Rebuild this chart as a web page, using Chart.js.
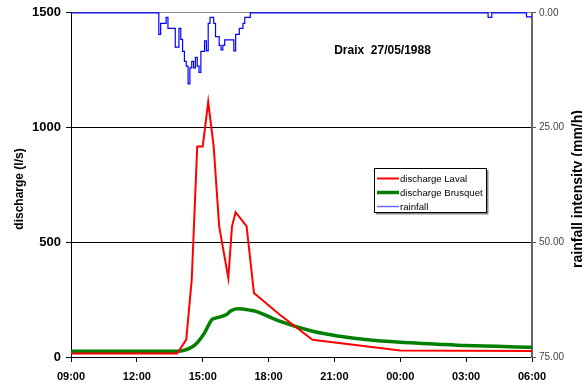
<!DOCTYPE html>
<html>
<head>
<meta charset="utf-8">
<script src="https://cdn.jsdelivr.net/npm/chart.js@4.4.1/dist/chart.umd.min.js"></script>
<style>
  body { margin: 0; background: #fff; }
  #wrap { width: 582px; height: 383px; position: relative; }
</style>
</head>
<body>
<div id="wrap"><canvas id="hydroChart"></canvas></div>
<script>
const xLabels = ['09:00', '12:00', '15:00', '18:00', '21:00', '00:00', '03:00', '06:00'];
const dischargeTicks = [0, 500, 1000, 1500];
const rainTicks = [0, 25, 50, 75];

// discharge Laval (l/s)
const lavalTime = ['09:00', '13:50', '14:15', '14:30', '14:45', '15:00', '15:15', '15:30', '15:45',
    '16:10', '16:20', '16:30', '17:00', '17:20', '18:30', '20:00', '00:00', '06:00'];
const lavalQ = [15, 15, 76, 337, 917, 917, 1112, 917, 569, 344, 569, 631, 569, 279, 185, 75, 28, 26];

// discharge Brusquet (l/s)
const brusquetTime = ['09:00', '13:50', '14:30', '14:45', '15:05', '15:25', '15:35', '16:05', '16:15',
    '16:35', '17:10', '17:25', '18:30', '20:00', '21:15', '22:25', '00:00', '01:30', '03:00', '06:00'];
const brusquetQ = [25, 25, 43, 62, 105, 163, 169, 185, 199, 210, 204, 199, 156, 112, 90, 76, 64, 57, 50, 43];

// rainfall (mm/h), 5 minute steps from 13:00
const rainStart = '13:00';
const rainStepMin = 5;
const rainValues = [4.7, 2.3, 2.3, 2.3, 1.0, 3.4, 3.4, 3.4, 3.4, 7.5, 7.5, 3.4, 5.8, 8.4, 10.6, 11.6,
    15.5, 12.0, 10.6, 12.0, 9.7, 11.6, 13.0, 8.4, 8.4, 6.1, 8.3, 2.3, 1.0, 1.0, 2.3, 5.2, 5.2, 7.1,
    8.1, 7.1, 5.9, 5.9, 5.9, 5.9, 5.9, 8.3, 4.7, 4.7, 3.4, 3.4, 2.3, 1.0, 1.0, 1.0, 0];
const rainLateTime = ['04:00', '04:10', '05:45'];
const rainLateValues = [1.0, 0, 0.9];

function hoursFrom9(hhmm) {
    const [h, m] = hhmm.split(':').map(Number);
    let t = h + m / 60 - 9;
    if (t < 0) t += 24;
    return t;
}

const lavalData = lavalTime.map((t, i) => ({ x: hoursFrom9(t), y: lavalQ[i] }));
const brusquetData = brusquetTime.map((t, i) => ({ x: hoursFrom9(t), y: brusquetQ[i] }));

const rainData = [{ x: 0, y: 0 }];
const r0 = hoursFrom9(rainStart);
rainValues.forEach((v, k) => rainData.push({ x: r0 + k * rainStepMin / 60, y: v }));
rainLateTime.forEach((t, i) => rainData.push({ x: hoursFrom9(t), y: rainLateValues[i] }));
rainData.push({ x: 21, y: rainLateValues[rainLateValues.length - 1] });

const FONT = '"Liberation Sans", Arial, sans-serif';
Chart.defaults.font.family = FONT;

// title, axis titles and the boxed legend
const extras = {
    id: 'extras',
    afterDraw(chart) {
        const ctx = chart.ctx;
        ctx.save();
        ctx.fillStyle = '#000';
        ctx.font = 'bold 12px ' + FONT;
        ctx.textAlign = 'center';
        ctx.textBaseline = 'alphabetic';
        ctx.fillText('Draix  27/05/1988', 382.5, 53.5);

        ctx.save();
        ctx.translate(23, 189);
        ctx.rotate(-Math.PI / 2);
        ctx.fillText('discharge (l/s)', 0, 0);
        ctx.restore();

        ctx.save();
        ctx.font = 'bold 14px ' + FONT;
        ctx.translate(582, 189);
        ctx.rotate(-Math.PI / 2);
        ctx.fillText('rainfall intensity (mm/h)', 0, 0);
        ctx.restore();

        // legend
        ctx.fillStyle = '#888';
        ctx.fillRect(376, 213, 112, 1.5);
        ctx.fillRect(487, 170, 1.5, 44);
        ctx.strokeStyle = '#000';
        ctx.lineWidth = 1;
        ctx.fillStyle = '#fff';
        ctx.fillRect(374.5, 168.5, 112, 44);
        ctx.strokeRect(374.5, 168.5, 112, 44);

        const items = [
            { text: 'discharge Laval', color: '#ff0000', w: 2, y: 178.5 },
            { text: 'discharge Brusquet', color: '#008000', w: 3.5, y: 192.5 },
            { text: 'rainfall', color: '#6a6aff', w: 1.5, y: 206.5 }
        ];
        ctx.font = '9.6px ' + FONT;
        ctx.textAlign = 'left';
        ctx.textBaseline = 'middle';
        items.forEach(it => {
            ctx.strokeStyle = it.color;
            ctx.lineWidth = it.w;
            ctx.beginPath();
            ctx.moveTo(377, it.y);
            ctx.lineTo(399, it.y);
            ctx.stroke();
            ctx.fillStyle = '#000';
            ctx.fillText(it.text, 400, it.y + 0.5);
        });
        ctx.restore();
    }
};

const diagram = document.getElementById('hydroChart').getContext('2d');
const hydroChart = new Chart(diagram, {
    type: 'line',
    data: {
        datasets: [
            {
                label: 'discharge Laval',
                data: lavalData,
                borderColor: '#ff0000',
                borderWidth: 2,
                pointRadius: 0,
                tension: 0,
                yAxisID: 'y',
                clip: false
            },
            {
                label: 'discharge Brusquet',
                data: brusquetData,
                borderColor: '#008000',
                borderWidth: 3.5,
                pointRadius: 0,
                cubicInterpolationMode: 'monotone',
                yAxisID: 'y',
                clip: false
            },
            {
                label: 'rainfall',
                data: rainData,
                borderColor: '#0000ff',
                borderWidth: 1.2,
                pointRadius: 0,
                stepped: true,
                yAxisID: 'rain',
                clip: false
            }
        ]
    },
    options: {
        responsive: true,
        maintainAspectRatio: false,
        animation: false,
        layout: { padding: { top: 12, left: 0, right: 0, bottom: 0 } },
        plugins: {
            legend: { display: false },
            tooltip: { enabled: false }
        },
        scales: {
            x: {
                type: 'linear',
                min: 0,
                max: 21,
                afterBuildTicks: s => { s.ticks = xLabels.map((_, i) => ({ value: i * 3 })); },
                afterFit: s => { s.height = 26; },
                ticks: {
                    callback: (v, i) => xLabels[i],
                    color: '#000',
                    font: { size: 11, weight: 'bold' },
                    padding: 8,
                    maxRotation: 0,
                    autoSkip: false
                },
                grid: { drawOnChartArea: false, tickLength: 5, tickColor: '#000' },
                border: { color: '#000', width: 1 }
            },
            y: {
                position: 'left',
                min: 0,
                max: 1500,
                afterBuildTicks: s => { s.ticks = dischargeTicks.map(v => ({ value: v })); },
                afterFit: s => { s.width = 71; },
                ticks: {
                    callback: v => String(v),
                    color: '#000',
                    font: { size: 13, weight: 'bold' },
                    padding: 5
                },
                grid: {
                    color: c => (c.tick && c.tick.value === 1500) ? '#888' : '#000',
                    tickLength: 5,
                    tickColor: '#000'
                },
                border: { color: '#000', width: 1 }
            },
            rain: {
                position: 'right',
                reverse: true,
                min: 0,
                max: 75,
                afterBuildTicks: s => { s.ticks = rainTicks.map(v => ({ value: v })); },
                afterFit: s => { s.width = 50; },
                ticks: {
                    callback: v => v.toFixed(2),
                    color: '#444',
                    font: { size: 10 },
                    padding: 3
                },
                grid: { drawOnChartArea: false, tickLength: 4, tickColor: '#555' },
                border: { color: '#666', width: 2 }
            }
        }
    },
    plugins: [extras]
});
</script>
</body>
</html>
